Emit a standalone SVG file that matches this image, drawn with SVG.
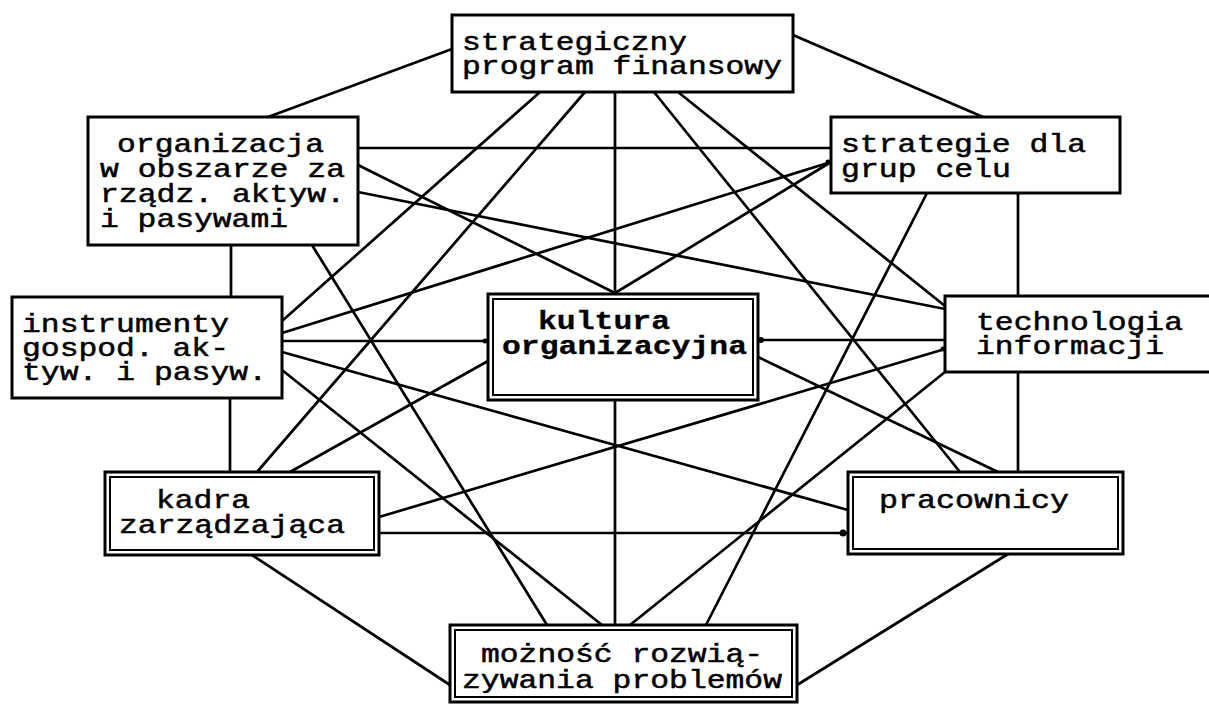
<svg xmlns="http://www.w3.org/2000/svg" width="1209" height="704" viewBox="0 0 1209 704">
  <style>
    .box { fill: #fff; stroke: #000; stroke-width: 3; }
    .inner { fill: none; stroke: #000; stroke-width: 2; }
    .lbl { font-family: "Liberation Mono", "DejaVu Sans Mono", monospace; font-size: 26px; fill: #000; stroke: #000; stroke-width: 0.5; }
    .bold { font-weight: bold; stroke-width: 0.3; }
    #connectors line { stroke: #000; stroke-width: 2.7; stroke-linecap: round; }
    #connectors circle { fill: #000; }
  </style>
  <rect width="1209" height="704" fill="#fff"/>

  <!-- connectors drawn first so boxes sit on top -->
  <g id="connectors">
    <line x1="452" y1="49" x2="268" y2="117"/>
    <line x1="793" y1="35" x2="983" y2="117"/>
    <line x1="358" y1="148" x2="831" y2="148"/>
    <line x1="358" y1="165" x2="615" y2="293"/>
    <line x1="358" y1="192" x2="945" y2="309"/>
    <line x1="540" y1="92" x2="282" y2="321"/>
    <line x1="585" y1="92" x2="257" y2="472"/>
    <line x1="615" y1="92" x2="615" y2="294"/>
    <line x1="654" y1="92" x2="960" y2="472"/>
    <line x1="678" y1="92" x2="945" y2="306"/>
    <line x1="615" y1="293" x2="831" y2="162"/>
    <line x1="282" y1="333" x2="831" y2="162"/>
    <line x1="282" y1="341" x2="488" y2="341"/>
    <line x1="282" y1="352" x2="848" y2="510"/>
    <line x1="282" y1="370" x2="602" y2="625"/>
    <line x1="312" y1="245" x2="547" y2="625"/>
    <line x1="290" y1="472" x2="488" y2="361"/>
    <line x1="379" y1="517" x2="945" y2="349"/>
    <line x1="379" y1="533" x2="848" y2="533"/>
    <line x1="758" y1="340" x2="945" y2="340"/>
    <line x1="758" y1="357" x2="998" y2="472"/>
    <line x1="945" y1="372" x2="630" y2="625"/>
    <line x1="927" y1="193" x2="706" y2="625"/>
    <line x1="615" y1="400" x2="615" y2="625"/>
    <line x1="231" y1="245" x2="231" y2="297"/>
    <line x1="230" y1="398" x2="230" y2="472"/>
    <line x1="1018" y1="193" x2="1018" y2="296"/>
    <line x1="1018" y1="372" x2="1018" y2="472"/>
    <line x1="252" y1="555" x2="450" y2="685"/>
    <line x1="1008" y1="554" x2="797" y2="685"/>
    <circle cx="485" cy="341" r="2.5"/>
    <circle cx="761" cy="340" r="3"/>
    <circle cx="828" cy="162" r="2.5"/>
    <circle cx="943" cy="349" r="2.5"/>
    <circle cx="843" cy="533" r="3.5"/>
  </g>

  <g id="n-program">
    <rect class="box" x="452" y="15" width="341" height="77"/>
    <text class="lbl"><tspan x="462" y="50" textLength="225" lengthAdjust="spacingAndGlyphs">strategiczny</tspan><tspan x="462" y="74" textLength="320" lengthAdjust="spacingAndGlyphs">program finansowy</tspan></text>
  </g>

  <g id="n-organizacja">
    <rect class="box" x="88" y="117" width="270" height="128"/>
    <text class="lbl"><tspan x="117" y="152" textLength="207" lengthAdjust="spacingAndGlyphs">organizacja</tspan><tspan x="100" y="177" textLength="245" lengthAdjust="spacingAndGlyphs">w obszarze za</tspan><tspan x="100" y="202" textLength="245" lengthAdjust="spacingAndGlyphs">rządz. aktyw.</tspan><tspan x="100" y="227" textLength="188" lengthAdjust="spacingAndGlyphs">i pasywami</tspan></text>
  </g>

  <g id="n-strategie">
    <rect class="box" x="831" y="117" width="289" height="76"/>
    <text class="lbl"><tspan x="841" y="152" textLength="245" lengthAdjust="spacingAndGlyphs">strategie dla</tspan><tspan x="841" y="177" textLength="170" lengthAdjust="spacingAndGlyphs">grup celu</tspan></text>
  </g>

  <g id="n-instrumenty">
    <rect class="box" x="12" y="297" width="270" height="101"/>
    <text class="lbl"><tspan x="22" y="332" textLength="207" lengthAdjust="spacingAndGlyphs">instrumenty</tspan><tspan x="22" y="356" textLength="207" lengthAdjust="spacingAndGlyphs">gospod. ak-</tspan><tspan x="22" y="380" textLength="245" lengthAdjust="spacingAndGlyphs">tyw. i pasyw.</tspan></text>
  </g>

  <g id="n-kultura">
    <rect class="box" x="488" y="294" width="270" height="106"/>
    <rect class="inner" x="493" y="299" width="260" height="96"/>
    <text class="lbl bold"><tspan x="538" y="329" textLength="132" lengthAdjust="spacingAndGlyphs">kultura</tspan><tspan x="502" y="354" textLength="245" lengthAdjust="spacingAndGlyphs">organizacyjna</tspan></text>
  </g>

  <g id="n-technologia">
    <rect class="box" x="945" y="296" width="270" height="76"/>
    <text class="lbl"><tspan x="976" y="330" textLength="207" lengthAdjust="spacingAndGlyphs">technologia</tspan><tspan x="976" y="354" textLength="188" lengthAdjust="spacingAndGlyphs">informacji</tspan></text>
  </g>

  <g id="n-kadra">
    <rect class="box" x="105" y="472" width="274" height="83"/>
    <rect class="inner" x="110" y="477" width="264" height="73"/>
    <text class="lbl"><tspan x="156" y="508" textLength="94" lengthAdjust="spacingAndGlyphs">kadra</tspan><tspan x="119" y="533" textLength="226" lengthAdjust="spacingAndGlyphs">zarządzająca</tspan></text>
  </g>

  <g id="n-pracownicy">
    <rect class="box" x="848" y="472" width="275" height="82"/>
    <rect class="inner" x="853" y="477" width="265" height="72"/>
    <text class="lbl" x="879" y="508" textLength="190" lengthAdjust="spacingAndGlyphs">pracownicy</text>
  </g>

  <g id="n-mozliwosc">
    <rect class="box" x="450" y="625" width="347" height="77"/>
    <rect class="inner" x="455" y="630" width="337" height="67"/>
    <text class="lbl"><tspan x="481" y="662" textLength="282" lengthAdjust="spacingAndGlyphs">możność rozwią-</tspan><tspan x="462" y="688" textLength="320" lengthAdjust="spacingAndGlyphs">zywania problemów</tspan></text>
  </g>
</svg>
